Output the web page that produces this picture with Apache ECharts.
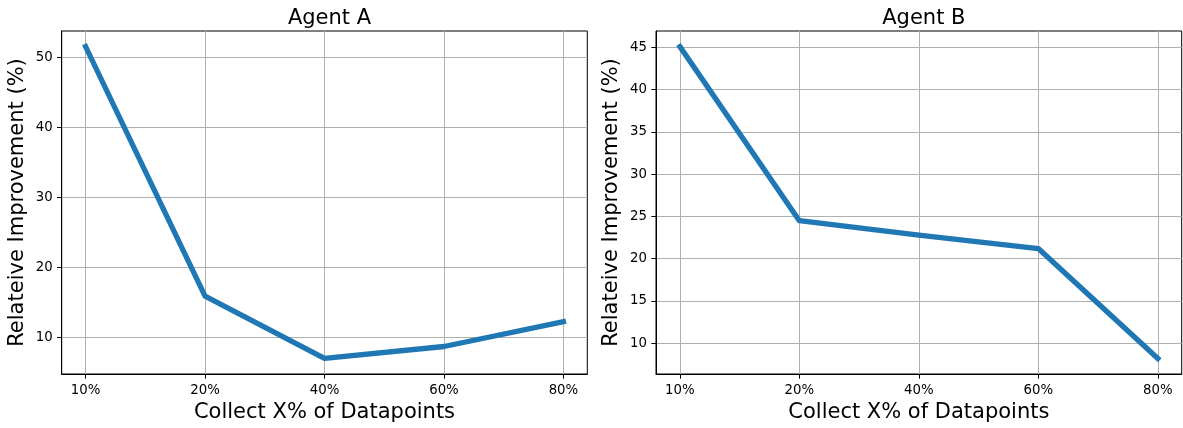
<!DOCTYPE html>
<html><head><meta charset="utf-8">
<script src="https://cdn.jsdelivr.net/npm/echarts@6/dist/echarts.min.js"></script>
<style>html,body{margin:0;padding:0;background:#fff}#c{width:1183px;height:428px}</style>
</head><body><div id="c"></div><script>
const categories = ['10%', '20%', '40%', '60%', '80%'];
const agentA = [51.5, 15.9, 7.0, 8.7, 12.25];
const agentB = [45.1, 24.5, 22.8, 21.2, 8.2];
const yTicksA = [10, 20, 30, 40, 50];
const yTicksB = [10, 15, 20, 25, 30, 35, 40, 45];
const titles = ['Agent A', 'Agent B'];
const xName = 'Collect X% of Datapoints';
const yName = 'Relateive Improvement (%)';

const FONT = 'DejaVu Sans';
const xIdx = categories.map((_, i) => i);
function pad(vals) {
  const mn = Math.min(...vals), mx = Math.max(...vals), r = mx - mn;
  return [mn - 0.05 * r, mx + 0.05 * r];
}
const grids = [
  { left: 61.7, top: 31, width: 525.6, height: 346 },
  { left: 656, top: 31, width: 525.7, height: 346 }
];
const series = [agentA, agentB];
const yTicks = [yTicksA, yTicksB];

const option = {
  animation: false,
  backgroundColor: '#fff',
  title: grids.map((g, i) => ({
    text: titles[i], left: g.left + g.width / 2, top: 3, textAlign: 'center',
    textStyle: { fontFamily: FONT, fontSize: 21, fontWeight: 'normal', color: '#000' }
  })),
  grid: grids.map(g => Object.assign({ show: true, borderColor: '#000', borderWidth: 1, backgroundColor: '#fff' }, g)),
  xAxis: grids.map((g, i) => ({
    type: 'value', gridIndex: i, min: -0.2, max: categories.length - 1 + 0.2,
    name: xName, nameLocation: 'middle', nameGap: 28,
    nameTextStyle: { fontFamily: FONT, fontSize: 21, color: '#000' },
    axisLine: { show: true, onZero: false, lineStyle: { color: '#000', width: 1 } },
    axisTick: { show: true, length: 4.7, customValues: xIdx, lineStyle: { color: '#000', width: 1 } },
    axisLabel: { customValues: xIdx, margin: 10, fontFamily: FONT, fontSize: 13.3, color: '#000',
      formatter: v => categories[Math.round(v)] },
    splitLine: { show: true, lineStyle: { color: '#b0b0b0', width: 1 } }
  })),
  yAxis: grids.map((g, i) => {
    const [mn, mx] = pad(series[i]);
    return {
      type: 'value', gridIndex: i, min: mn, max: mx,
      name: yName, nameLocation: 'middle', nameGap: 34,
      nameTextStyle: { fontFamily: FONT, fontSize: 21, color: '#000' },
      axisLine: { show: true, onZero: false, lineStyle: { color: '#000', width: 1 } },
      axisTick: { show: true, length: 4.7, customValues: yTicks[i], lineStyle: { color: '#000', width: 1 } },
      axisLabel: { customValues: yTicks[i], margin: 9, fontFamily: FONT, fontSize: 13.3, color: '#000' },
      splitLine: { show: true, lineStyle: { color: '#b0b0b0', width: 1 } }
    };
  }),
  series: series.map((vals, i) => ({
    type: 'line', xAxisIndex: i, yAxisIndex: i,
    data: vals.map((v, j) => [xIdx[j], v]),
    symbol: 'none',
    lineStyle: { color: '#1f77b4', width: 5.3, cap: 'square', join: 'round' }
  }))
};
const chart = echarts.init(document.getElementById('c'), null, { renderer: 'canvas' });
chart.setOption(option);
</script></body></html>
